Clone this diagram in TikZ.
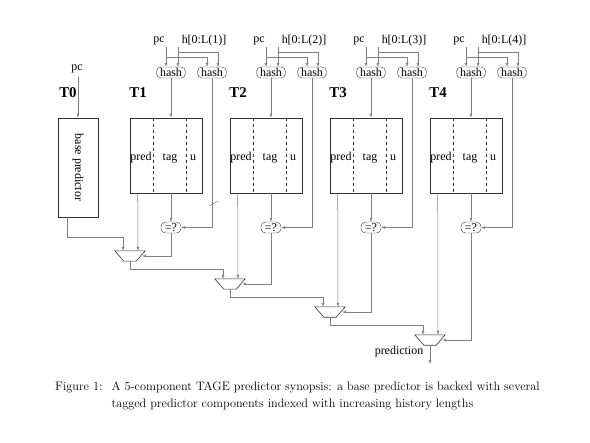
\documentclass[tikz,border=0pt]{standalone}
\usepackage{fontspec}
\newfontfamily\timesfont{Liberation Serif}
\usetikzlibrary{arrows.meta}

\begin{document}
\begin{tikzpicture}[x=1bp, y=-1bp, font=\timesfont\fontsize{12}{14}\selectfont,
        >={Latex[length=4bp,width=3bp]},
        wire/.style={draw=black!50, line width=0.5bp},
        tbl/.style={draw=black!80, line width=0.6bp, minimum width=72bp, minimum height=75bp, inner sep=0pt},
        hashbox/.style={draw=black!80, rounded corners=4.5bp, minimum width=29bp, minimum height=11bp, inner sep=0.5bp},
        cmpbox/.style={draw=black!80, rounded corners=4.5bp, minimum width=20bp, minimum height=11bp, inner sep=0.5bp},
        mux/.style={minimum width=30bp, minimum height=10bp, inner sep=0pt},
        tlabel/.style={font=\timesfont\bfseries\fontsize{15}{17}\selectfont}]
        \useasboundingbox (0,0) rectangle (590,443);

        % base predictor
        \node[tlabel] (T0) at (68,93) {T0};
        \node (pc0) at (77,69) {pc};
        \node[tbl, minimum width=40bp, minimum height=99bp] (base) at (78,167.5) {};
        \node[rotate=-90] (baselbl) at (base.center) {base predictor};
        \draw[wire,->] (pc0.south -| base.north) -- (base.north);

        % tagged components
        \foreach \i/\x in {1/130, 2/230, 3/330, 4/430} {
            \node[tlabel] (T\i) at (\x+8,93) {T\i};
            \node[tbl] (tab\i) at (\x+36,155.5) {};
            \draw[dashed, draw=black!80] ([xshift=23bp]tab\i.north west) -- ([xshift=23bp]tab\i.south west);
            \draw[dashed, draw=black!80] ([xshift=56bp]tab\i.north west) -- ([xshift=56bp]tab\i.south west);
            \node (pred\i) at (\x+11,158) {pred};
            \node (tag\i) at (\x+40,158) {tag};
            \node (u\i) at (\x+63,158) {u};

            \node (pc\i) at (\x+29,41) {pc};
            \node (hist\i) at (\x+74,41) {h[0:L(\i)]};
            \node[hashbox] (hashA\i) at (\x+41,72.5) {hash};
            \node[hashbox] (hashB\i) at (\x+82,72.5) {hash};
            \coordinate (pcin\i) at (\x+36,47);
            \coordinate (hin\i) at (\x+48,47);
            \draw[wire,->] (pcin\i) -- (pcin\i |- hashA\i.north);
            \draw[wire,->] (hin\i) -- (hin\i |- hashA\i.north);
            \draw[wire,->] ([yshift=-10bp]pcin\i) -| ([xshift=-5bp]hashB\i.north);
            \draw[wire,->] ([yshift=-5bp]hin\i) -| ([xshift=6bp]hashB\i.north);
            \draw[wire,->] (hashA\i.south) -- (hashA\i.south |- tab\i.north);

            \node[cmpbox] (cmp\i) at (\x+41,227.5) {=?};
            \draw[wire,->] (hashA\i.south |- tab\i.south) -- (cmp\i.north);
            \draw[wire,->] (hashB\i.south) |- (cmp\i.east);

            \node[mux] (mux\i) at (\x,256+28*\i-28) {};
            \draw[draw=black!80, line width=0.6bp] (mux\i.north west) -- (mux\i.north east)
                -- ([xshift=-9bp]mux\i.south east) -- ([xshift=9bp]mux\i.south west) -- cycle;
            \draw[wire,->] ([xshift=8bp]tab\i.south west) -- ([xshift=8bp]mux\i.north);
            \draw[wire,->] (cmp\i.south) |- ([xshift=-3bp]mux\i.east);
        }
        \draw[wire] (209,206) -- (218,201);

        % selection chain
        \draw[wire,->] ([xshift=-11bp]base.south) -- ++(0,20) -| ([xshift=-7bp]mux1.north);
        \foreach \i/\j in {1/2, 2/3, 3/4}
            \draw[wire,->] (mux\i.south) -- ++(0,8) -| ([xshift=-7bp]mux\j.north);
        \node (predout) at (399,352) {prediction};
        \draw[wire,->] (mux4.south) -- ++(0,19);

        \node[anchor=north west, inner sep=0pt, font=\normalfont\fontsize{12.3}{17.5}\selectfont] (caption) at (55,378)
            {\begin{tabular}{@{}p{56.5bp}@{}l@{}}Figure 1: & A 5-component TAGE predictor synopsis: a base predictor is backed with several\\
             & tagged predictor components indexed with increasing history lengths\end{tabular}};
    \end{tikzpicture}
\end{document}
